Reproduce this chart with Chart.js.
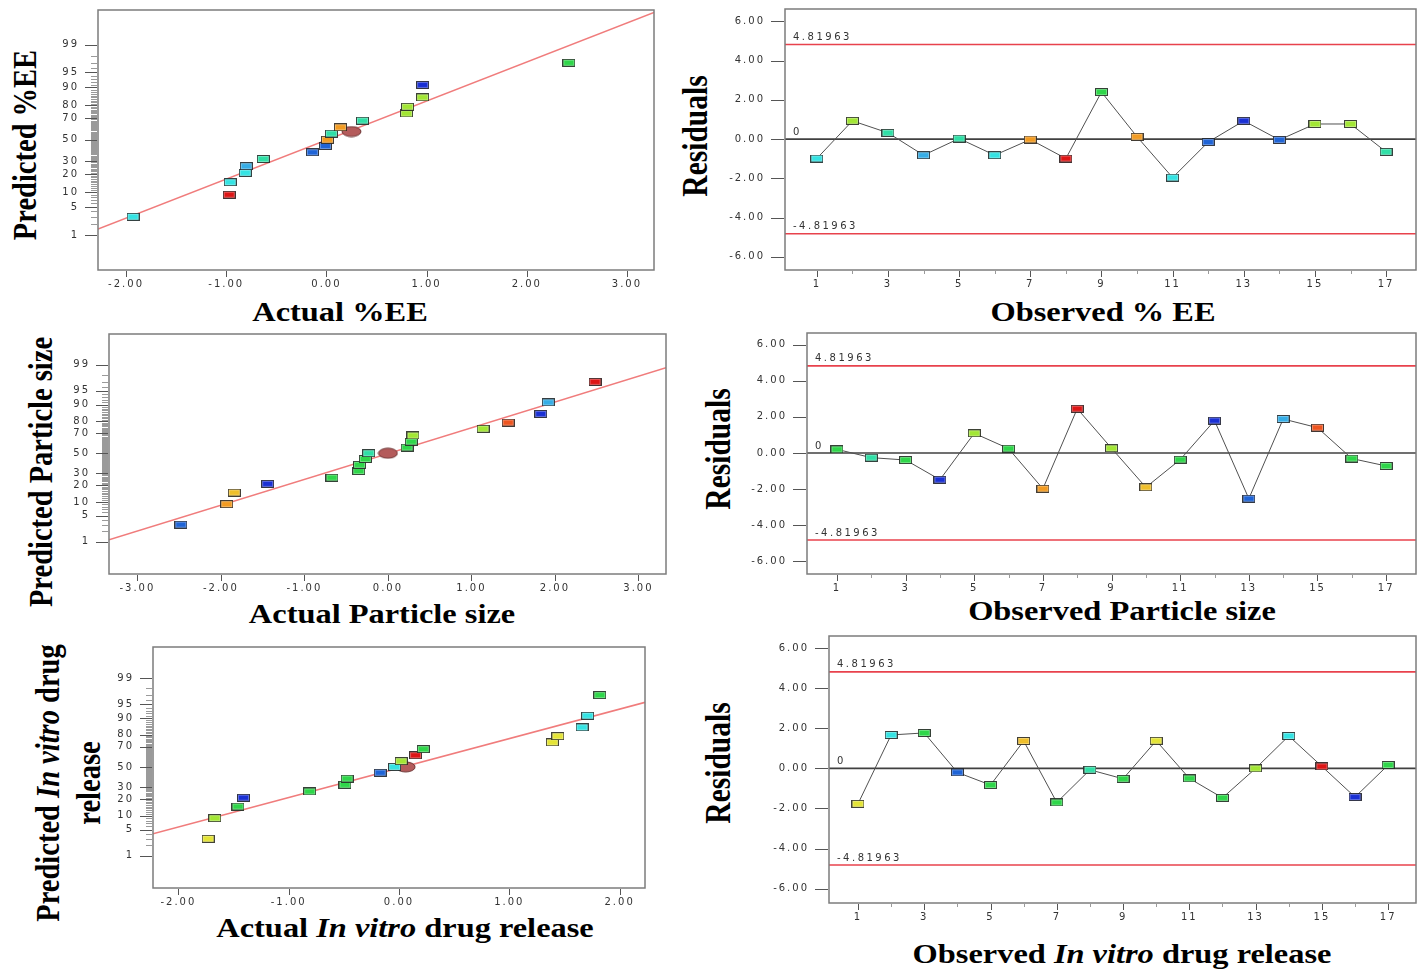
<!DOCTYPE html>
<html>
<head>
<meta charset="utf-8">
<title>Normal plots and residuals</title>
<script src="https://cdn.jsdelivr.net/npm/chart.js@4.4.1/dist/chart.umd.min.js"></script>
<style>
  body { margin: 0; background: #fff; width: 1425px; height: 970px; overflow: hidden; position: relative; }
  canvas { position: absolute; }
  .t, .v { position: absolute; white-space: nowrap; color: #000; line-height: 1;
           font-family: 'Liberation Serif', 'Times New Roman', serif; font-weight: bold; }
  .t { font-size: 27px; transform: translate(-50%, -50%) scaleX(1.2); }
  .v { font-size: 28.5px; transform: translate(-50%, -50%) rotate(-90deg) scaleY(1.2); }
  .v.r { font-size: 29.5px; }
  i { font-style: italic; }
</style>
</head>
<body>

<div class="v" style="left:25px; top:145px">Predicted %EE</div>
<div class="t" style="left:340px; top:312px">Actual %EE</div>
<div class="v r" style="left:696px; top:136px">Residuals</div>
<div class="t" style="left:1103px; top:312px">Observed % EE</div>

<div class="v" style="left:41px; top:472px">Predicted Particle size</div>
<div class="t" style="left:382px; top:614px">Actual Particle size</div>
<div class="v r" style="left:719px; top:449px">Residuals</div>
<div class="t" style="left:1122px; top:611px">Observed Particle size</div>

<div class="v" style="left:48px; top:783px">Predicted <i>In vitro</i> drug</div>
<div class="v" style="left:89px; top:783px">release</div>
<div class="t" style="left:405px; top:928px">Actual <i>In vitro</i> drug release</div>
<div class="v r" style="left:719px; top:763px">Residuals</div>
<div class="t" style="left:1122px; top:954px">Observed <i>In vitro</i> drug release</div>

<script>
// ---- data ----
const runs = [1, 2, 3, 4, 5, 6, 7, 8, 9, 10, 11, 12, 13, 14, 15, 16, 17];
const normPct = [3, 9, 15, 21, 26, 32, 38, 44, 50, 56, 62, 68, 74, 79, 85, 91, 97];
const probLabels = [1, 5, 10, 20, 30, 50, 70, 80, 90, 95, 99];
const residTicks = [-6, -4, -2, 0, 2, 4, 6];
const limit = 4.81963;

// %EE
const eeXTicks = [-2, -1, 0, 1, 2, 3];
const eeActual = [-1.93, -0.97, -0.96, -0.81, -0.80, -0.63, -0.14, -0.01, 0.01, 0.05, 0.14, 0.36, 0.80, 0.81, 0.96, 0.96, 2.42];
const eeFitX = [-2.28, 3.27];
const eeFitP = [1.46, 99.906];
const eeMean = [0.25, 58];
const eeResid = [-0.99, 0.93, 0.32, -0.82, 0.03, -0.82, -0.02, -0.99, 2.40, 0.12, -1.96, -0.15, 0.93, -0.04, 0.77, 0.77, -0.65];

// particle size
const psXTicks = [-3, -2, -1, 0, 1, 2, 3];
const psActual = [-2.48, -1.93, -1.84, -1.44, -0.67, -0.35, -0.34, -0.27, -0.23, 0.23, 0.28, 0.30, 1.14, 1.44, 1.83, 1.92, 2.48];
const psFitX = [-3.34, 3.33];
const psFitP = [1.13, 98.78];
const psMean = [0.0, 50];
const psResid = [0.20, -0.26, -0.39, -1.48, 1.09, 0.24, -1.98, 2.45, 0.26, -1.90, -0.37, 1.79, -2.53, 1.88, 1.40, -0.31, -0.72];

// in vitro drug release
const drXTicks = [-2, -1, 0, 1, 2];
const drActual = [-1.73, -1.67, -1.46, -1.41, -0.81, -0.49, -0.47, -0.17, -0.04, 0.02, 0.15, 0.22, 1.39, 1.44, 1.66, 1.71, 1.82];
const drFitX = [-2.23, 2.23];
const drFitP = [4.01, 95.45];
const drMean = [0.06, 50];
const drResid = [-1.77, 1.67, 1.77, -0.20, -0.83, 1.37, -1.70, -0.07, -0.52, 1.38, -0.50, -1.47, 0.00, 1.62, 0.10, -1.43, 0.17];

// ---- point colours ----
const C = {
  cyan: '#35e3e3', sky: '#36ade6', blue: '#1a30d4', blue2: '#1f64d6', teal: '#30dfa6',
  green: '#2fd64a', lime: '#a2e634', yellow: '#e4e436', gold: '#efbf2c', orange: '#f29b22',
  redorange: '#ee5520', red: '#dd1616'
};
const eeNormCol = ['cyan', 'red', 'cyan', 'cyan', 'sky', 'teal', 'blue2', 'blue2', 'orange', 'teal', 'orange', 'teal', 'lime', 'lime', 'lime', 'blue', 'green'];
const eeResCol = ['cyan', 'lime', 'teal', 'sky', 'teal', 'cyan', 'orange', 'red', 'green', 'orange', 'cyan', 'blue2', 'blue', 'blue2', 'lime', 'lime', 'teal'];
const psNormCol = ['blue2', 'orange', 'gold', 'blue', 'green', 'green', 'green', 'green', 'teal', 'green', 'green', 'lime', 'lime', 'redorange', 'blue', 'sky', 'red'];
const psResCol = ['green', 'teal', 'green', 'blue', 'lime', 'green', 'orange', 'red', 'lime', 'gold', 'green', 'blue', 'blue2', 'sky', 'redorange', 'green', 'green'];
const drNormCol = ['yellow', 'lime', 'green', 'blue', 'green', 'green', 'green', 'blue2', 'cyan', 'lime', 'red', 'green', 'yellow', 'yellow', 'cyan', 'cyan', 'green'];
const drResCol = ['yellow', 'cyan', 'green', 'blue2', 'green', 'gold', 'green', 'teal', 'green', 'yellow', 'green', 'green', 'lime', 'cyan', 'red', 'blue', 'green'];

// inverse normal cdf (Acklam)
function probit(p) {
  const a = [-39.69683028665376, 220.9460984245205, -275.9285104469687, 138.3577518672690, -30.66479806614716, 2.506628277459239];
  const b = [-54.47609879822406, 161.5858368580409, -155.6989798598866, 66.80131188771972, -13.28068155288572];
  const c = [-0.007784894002430293, -0.3223964580411365, -2.400758277161838, -2.549732539343734, 4.374664141464968, 2.938163982698783];
  const d = [0.007784695709041462, 0.3224671290700398, 2.445134137142996, 3.754408661907416];
  const lo = 0.02425;
  if (p < lo || p > 1 - lo) {
    const q = Math.sqrt(-2 * Math.log(p < lo ? p : 1 - p));
    const z = (((((c[0] * q + c[1]) * q + c[2]) * q + c[3]) * q + c[4]) * q + c[5]) /
              ((((d[0] * q + d[1]) * q + d[2]) * q + d[3]) * q + 1);
    return p < lo ? z : -z;
  }
  const q = p - 0.5, r = q * q;
  return (((((a[0] * r + a[1]) * r + a[2]) * r + a[3]) * r + a[4]) * r + a[5]) * q /
         (((((b[0] * r + b[1]) * r + b[2]) * r + b[3]) * r + b[4]) * r + 1);
}

// normal probability axis: values in percent, spaced by normal quantile
class ProbitScale extends Chart.LinearScale {
  determineDataLimits() {
    this.min = this.options.zMin;
    this.max = this.options.zMax;
  }
  buildTicks() {
    const t = [];
    for (let v = 1; v <= 99; v++) t.push({ value: v, big: probLabels.includes(v) });
    return t;
  }
  getPixelForValue(v) {
    return super.getPixelForValue(probit(v / 100));
  }
}
ProbitScale.id = 'probit';
ProbitScale.defaults = {};

// frame + tick marks detached from the axes
const frameTicks = {
  id: 'frameTicks',
  beforeDraw(chart) { chart.ctx.letterSpacing = '2px'; },
  afterDraw(chart, args, o) {
    const { ctx, chartArea: a, scales: { x, y } } = chart;
    ctx.save();
    ctx.lineWidth = 1;
    [false, true].forEach(big => {
      ctx.strokeStyle = big ? '#555' : '#9a9a9a';
      ctx.beginPath();
      y.ticks.filter(t => !!t.big === big).forEach(t => {
        const py = Math.round(y.getPixelForValue(t.value)) + 0.5;
        ctx.moveTo(a.left - 1 - (big ? o.yBig : o.ySmall), py);
        ctx.lineTo(a.left - 1, py);
      });
      x.ticks.filter(t => !!t.big === big).forEach(t => {
        const px = Math.round(x.getPixelForValue(t.value)) + 0.5;
        ctx.moveTo(px, a.bottom + 1);
        ctx.lineTo(px, a.bottom + 1 + (big ? o.xBig : o.xSmall));
      });
      ctx.stroke();
    });
    ctx.strokeStyle = '#7c7c7c';
    ctx.lineWidth = 1.5;
    ctx.strokeRect(a.left, a.top, a.right - a.left, a.bottom - a.top);
    ctx.restore();
  }
};

const refLabels = {
  id: 'refLabels',
  afterDatasetsDraw(chart, args, o) {
    if (!o.items) return;
    const { ctx, chartArea: a, scales: { y } } = chart;
    ctx.save();
    ctx.letterSpacing = '2.5px';
    ctx.font = '10px "DejaVu Sans"';
    ctx.fillStyle = '#333';
    ctx.textBaseline = 'bottom';
    o.items.forEach(it => ctx.fillText(it.text, a.left + 8, y.getPixelForValue(it.v) - 2));
    ctx.restore();
  }
};

Chart.register(ProbitScale, frameTicks, refLabels);
Chart.defaults.font.family = '"DejaVu Sans"';
Chart.defaults.font.size = 10;
Chart.defaults.color = '#333';

const markerCache = {};
function marker(name) {
  if (markerCache[name]) return markerCache[name];
  const c = document.createElement('canvas');
  c.width = 13; c.height = 8;
  const g = c.getContext('2d');
  g.fillStyle = C[name];
  g.fillRect(0.5, 0.5, 12, 7);
  g.strokeStyle = 'rgba(35,35,35,0.85)';
  g.lineWidth = 1;
  g.strokeRect(0.5, 0.5, 12, 7);
  g.strokeStyle = 'rgba(255,255,255,0.3)';
  g.strokeRect(1.5, 1.5, 10, 5);
  return (markerCache[name] = c);
}
function ellipseImg() {
  const c = document.createElement('canvas');
  c.width = 21; c.height = 12;
  const g = c.getContext('2d');
  g.beginPath();
  g.ellipse(10.5, 6, 9.5, 5, 0, 0, Math.PI * 2);
  g.fillStyle = '#b45b5b';
  g.fill();
  g.strokeStyle = '#6c3232';
  g.lineWidth = 1;
  g.stroke();
  return c;
}

const PAD = { l: 75, t: 8, r: 8, b: 40 };

function place(box) {
  const cv = document.createElement('canvas');
  const w = box[2] - box[0] + PAD.l + PAD.r;
  const h = box[3] - box[1] + PAD.t + PAD.b;
  cv.width = w; cv.height = h;
  cv.style.left = (box[0] - PAD.l) + 'px';
  cv.style.top = (box[1] - PAD.t) + 'px';
  document.body.appendChild(cv);
  return cv;
}

// fixed axis sizes, no label overhang padding
const fitX = s => { s.height = PAD.b; s.paddingLeft = 0; s.paddingRight = 0; };
const fitY = s => { s.width = PAD.l; s.paddingTop = 0; s.paddingBottom = 0; };

function baseAxis(extra) {
  return Object.assign({
    grid: { display: false, drawTicks: false },
    border: { display: false },
  }, extra);
}

function normalPlot(box, xr, zr, xTicks, actual, cols, lineX, lineP, mean) {
  const cv = place(box);
  new Chart(cv, {
    type: 'scatter',
    data: {
      datasets: [
        { data: actual.map((v, i) => ({ x: v, y: normPct[i] })), pointStyle: cols.map(marker), pointRadius: 6 },
        { data: [{ x: mean[0], y: mean[1] }], pointStyle: ellipseImg(), pointRadius: 8 },
        { data: lineX.map((v, i) => ({ x: v, y: lineP[i] })), showLine: true, pointRadius: 0,
          borderColor: '#f07c7c', borderWidth: 1.6 }
      ]
    },
    options: {
      responsive: false, animation: false, events: [],
      layout: { padding: { top: PAD.t, right: PAD.r, left: 0, bottom: 0 } },
      plugins: { legend: { display: false }, tooltip: { enabled: false },
                 frameTicks: { yBig: 12, ySmall: 6, xBig: 6, xSmall: 3 } },
      scales: {
        x: baseAxis({
          type: 'linear', min: xr[0], max: xr[1], bounds: 'data', afterFit: fitX,
          afterBuildTicks: s => { s.ticks = xTicks.map(v => ({ value: v, big: true })); },
          ticks: { autoSkip: false, maxRotation: 0, padding: 8, callback: v => v.toFixed(2) }
        }),
        y: baseAxis({
          type: 'probit', zMin: zr[0], zMax: zr[1], afterFit: fitY,
          ticks: { autoSkip: false, padding: 19, callback: v => (probLabels.includes(v) ? String(v) : '') }
        })
      }
    }
  });
}

function residPlot(box, xr, yr, resid, cols) {
  const cv = place(box);
  const hline = (v, color) => ({
    data: [{ x: xr[0], y: v }, { x: xr[1], y: v }], showLine: true, pointRadius: 0,
    borderColor: color, borderWidth: 1.6
  });
  new Chart(cv, {
    type: 'scatter',
    data: {
      datasets: [
        { data: runs.map((r, i) => ({ x: r, y: resid[i] })), showLine: true, borderColor: '#505050',
          borderWidth: 1, pointStyle: cols.map(marker), pointRadius: 6 },
        hline(limit, '#e8424c'),
        hline(-limit, '#e8424c'),
        hline(0, '#404040')
      ]
    },
    options: {
      responsive: false, animation: false, events: [],
      layout: { padding: { top: PAD.t, right: PAD.r, left: 0, bottom: 0 } },
      plugins: { legend: { display: false }, tooltip: { enabled: false },
                 frameTicks: { yBig: 13, ySmall: 13, xBig: 6, xSmall: 3 },
                 refLabels: { items: [{ text: String(limit), v: limit }, { text: '0', v: 0 },
                                      { text: String(-limit), v: -limit }] } },
      scales: {
        x: baseAxis({
          type: 'linear', min: xr[0], max: xr[1], bounds: 'data', afterFit: fitX,
          afterBuildTicks: s => { s.ticks = runs.map(v => ({ value: v, big: v % 2 === 1 })); },
          ticks: { autoSkip: false, maxRotation: 0, padding: 8, callback: v => (v % 2 === 1 ? String(v) : '') }
        }),
        y: baseAxis({
          type: 'linear', min: yr[0], max: yr[1], bounds: 'data', afterFit: fitY,
          afterBuildTicks: s => { s.ticks = residTicks.map(v => ({ value: v, big: true })); },
          ticks: { autoSkip: false, padding: 20, callback: v => v.toFixed(2) }
        })
      }
    }
  });
}

normalPlot([98, 9, 655, 270], [-2.28, 3.27], [-3.18, 3.17], eeXTicks, eeActual, eeNormCol, eeFitX, eeFitP, eeMean);
residPlot([785, 9, 1416, 270], [0.106, 17.84], [-6.67, 6.63], eeResid, eeResCol);
normalPlot([109, 333, 667, 574], [-3.34, 3.33], [-3.18, 3.14], psXTicks, psActual, psNormCol, psFitX, psFitP, psMean);
residPlot([807, 333, 1416, 574], [0.127, 17.87], [-6.70, 6.64], psResid, psResCol);
normalPlot([153, 646, 646, 888], [-2.23, 2.23], [-3.17, 3.14], drXTicks, drActual, drNormCol, drFitX, drFitP, drMean);
residPlot([829, 636, 1416, 903], [0.125, 17.84], [-6.72, 6.61], drResid, drResCol);
</script>
</body>
</html>
